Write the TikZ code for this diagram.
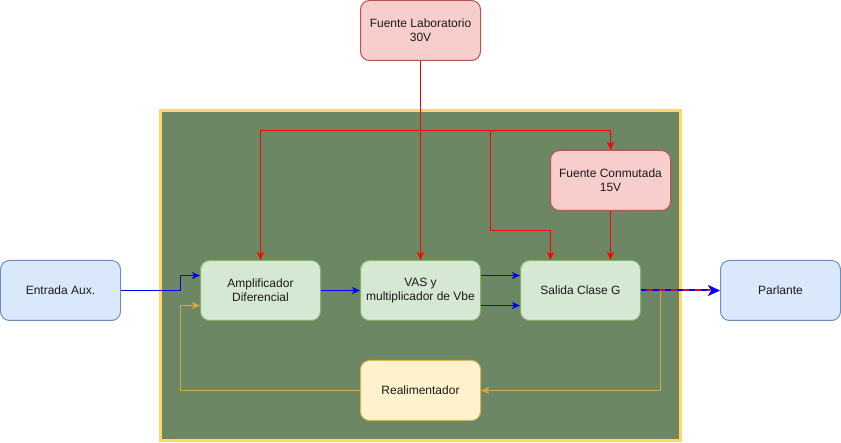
\documentclass[tikz,border=0pt]{standalone}
\usepackage{fontspec}
\setmainfont{Liberation Sans}
\usetikzlibrary{arrows.meta}
\definecolor{contfill}{HTML}{6D8764}
\definecolor{contdraw}{HTML}{FFD966}
\definecolor{redfill}{HTML}{F8CECC}
\definecolor{reddraw}{HTML}{B85450}
\definecolor{bluefill}{HTML}{DAE8FC}
\definecolor{bluedraw}{HTML}{6C8EBF}
\definecolor{greenfill}{HTML}{D5E8D4}
\definecolor{greendraw}{HTML}{82B366}
\definecolor{yelfill}{HTML}{FFF2CC}
\definecolor{yeldraw}{HTML}{D6B656}
\definecolor{fbline}{HTML}{D6A842}
\definecolor{txt}{HTML}{1A1A1A}
\tikzset{
  box/.style={rounded corners=9pt, minimum width=120pt, minimum height=60pt, inner sep=0pt, line width=1pt, align=center, font=\fontsize{12}{14}\selectfont, text=txt},
  redbox/.style={box, fill=redfill, draw=reddraw},
  bluebox/.style={box, fill=bluefill, draw=bluedraw},
  greenbox/.style={box, fill=greenfill, draw=greendraw},
  yelbox/.style={box, fill=yelfill, draw=yeldraw},
  tip/.style={-{Stealth[length=8pt,width=7pt,inset=2pt]}},
  bigtip/.style={-{Stealth[length=12pt,width=11pt,inset=3pt]}},
  redln/.style={tip, draw=red, line width=1pt},
  blueln/.style={tip, draw=blue, line width=1pt},
  fbln/.style={tip, draw=fbline, line width=1pt},
}
\begin{document}
\begin{tikzpicture}[x=1pt,y=-1pt]
\useasboundingbox (-0.5,-0.5) rectangle (840.5,442.5);
\node[fill=contfill, draw=contdraw, line width=3pt, minimum width=520pt, minimum height=330pt, inner sep=0pt] (cont) at (420,275) {};
\node[redbox] (lab) at (420,30) {Fuente Laboratorio\\30V};
\node[redbox] (conm) at (610,180) {Fuente Conmutada\\15V};
\node[bluebox] (ent) at (60,290) {Entrada Aux.};
\node[greenbox] (amp) at (260,290) {Amplificador\\Diferencial};
\node[greenbox] (vas) at (420,290) {VAS y\\multiplicador de Vbe};
\node[greenbox] (sal) at (580,290) {Salida Clase G};
\node[bluebox] (par) at (780,290) {Parlante};
\node[yelbox] (real) at (420,390) {Realimentador};
\coordinate (bus) at (420,130);
\coordinate (br) at (490,130);
\coordinate (tap) at (660,290);
% red supply lines
\draw[redln] (lab.south) -- (vas.north);
\draw[redln] (bus) -| (amp.north);
\draw[redln] (bus) -| (conm.north);
\draw[redln] (br) |- (550,230) -- (sal.north -| 550,0);
\draw[redln] (conm.south) -- (sal.north -| conm.south);
% blue signal lines
\draw[blueln] (ent.east) -- (180,290) |- ([yshift=15pt]amp.west);
\draw[blueln] (amp.east) -- (vas.west);
\draw[blueln] ([yshift=15pt]vas.east) -- ([yshift=15pt]sal.west);
\draw[blueln] ([yshift=-15pt]vas.east) -- ([yshift=-15pt]sal.west);
% feedback
\draw[fbln] (tap) |- (real.east);
\draw[fbln] (real.west) -- (180,390) |- ([yshift=-15pt]amp.west);
% output
\draw[red, line width=2pt] (sal.east) -- ([xshift=-10pt]par.west);
\draw[bigtip, draw=blue, fill=blue, line width=2pt, dash pattern=on 6pt off 6pt] (sal.east) -- (par.west);
\end{tikzpicture}
\end{document}
